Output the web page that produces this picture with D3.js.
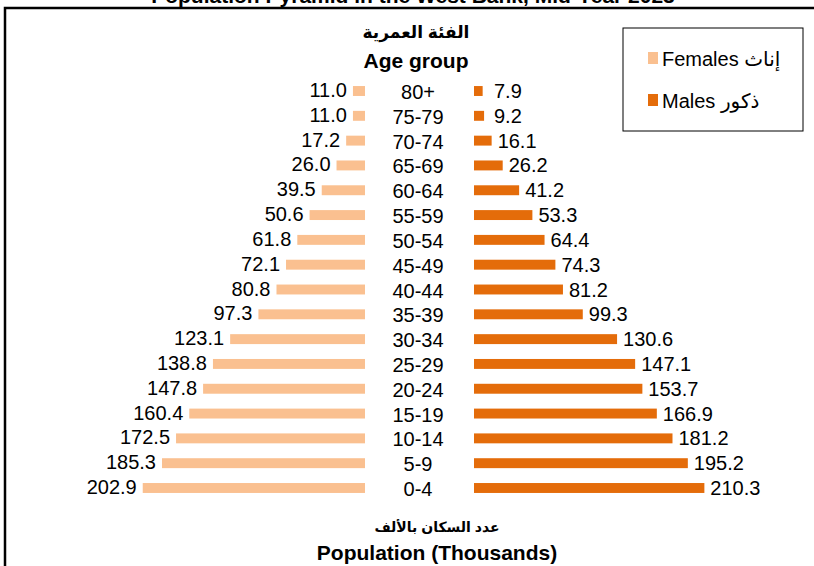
<!DOCTYPE html>
<html>
<head>
<meta charset="utf-8">
<script src="https://cdn.jsdelivr.net/npm/d3@7"></script>
<style>
  body { margin: 0; background: #fff; }
  svg { display: block; }
  text { font-family: "Liberation Sans", Arial, "DejaVu Sans", sans-serif; fill: #000; }
</style>
</head>
<body>
<div id="chart"></div>
<script>
// age groups from youngest to oldest
const ageGroups = ["0-4", "5-9", "10-14", "15-19", "20-24", "25-29", "30-34", "35-39",
  "40-44", "45-49", "50-54", "55-59", "60-64", "65-69", "70-74", "75-79", "80+"];
const females = [202.9, 185.3, 172.5, 160.4, 147.8, 138.8, 123.1, 97.3,
  80.8, 72.1, 61.8, 50.6, 39.5, 26.0, 17.2, 11.0, 11.0];
const males = [210.3, 195.2, 181.2, 166.9, 153.7, 147.1, 130.6, 99.3,
  81.2, 74.3, 64.4, 53.3, 41.2, 26.2, 16.1, 9.2, 7.9];
const seriesNames = ["Females إناث", "Males ذكور"];

const width = 814, height = 566;
const femaleColor = "#FAC090", maleColor = "#E46C0A";

const svg = d3.select("#chart").append("svg")
  .attr("width", width)
  .attr("height", height);

// outer frame (runs past the right and bottom edges)
svg.append("rect")
  .attr("x", 5).attr("y", 8)
  .attr("width", 840).attr("height", 600)
  .attr("fill", "none").attr("stroke", "#000").attr("stroke-width", 2.5);

// title, cut off at the top like the original
svg.append("text")
  .attr("x", 413).attr("y", 3)
  .attr("text-anchor", "middle")
  .attr("font-size", "21px").attr("font-weight", "bold")
  .text("Population Pyramid in the West Bank, Mid-Year 2023");

const y = d3.scaleBand()
  .domain(ageGroups.slice().reverse())
  .range([78.6, 500.4])
  .paddingInner(0.6)
  .paddingOuter(0.3);

const xF = d3.scaleLinear().domain([0, 220]).range([365, 365 - 241]);
const xM = d3.scaleLinear().domain([0, 220]).range([474, 474 + 241]);

const rows = ageGroups.map((a, i) => ({ age: a, f: females[i], m: males[i] }));
const cy = d => y(d.age) + y.bandwidth() / 2;

// female bars
svg.append("g").selectAll("rect")
  .data(rows).join("rect")
  .attr("x", d => xF(d.f))
  .attr("y", d => y(d.age))
  .attr("width", d => xF(0) - xF(d.f))
  .attr("height", y.bandwidth())
  .attr("fill", femaleColor);

// male bars
svg.append("g").selectAll("rect")
  .data(rows).join("rect")
  .attr("x", xM(0))
  .attr("y", d => y(d.age))
  .attr("width", d => xM(d.m) - xM(0))
  .attr("height", y.bandwidth())
  .attr("fill", maleColor);

// value labels
svg.append("g").selectAll("text")
  .data(rows).join("text")
  .attr("x", d => xF(d.f) - 6)
  .attr("y", d => cy(d) + 6)
  .attr("text-anchor", "end")
  .attr("font-size", "20px")
  .text(d => d.f.toFixed(1));

svg.append("g").selectAll("text")
  .data(rows).join("text")
  .attr("x", d => Math.max(xM(d.m) + 6, 494))
  .attr("y", d => cy(d) + 7)
  .attr("font-size", "20px")
  .text(d => d.m.toFixed(1));

// age group labels
svg.append("g").selectAll("text")
  .data(rows).join("text")
  .attr("x", 418)
  .attr("y", d => cy(d) + 8)
  .attr("text-anchor", "middle")
  .attr("font-size", "20px")
  .text(d => d.age);

// axis titles
svg.append("text")
  .attr("x", 416).attr("y", 38)
  .attr("text-anchor", "middle")
  .attr("font-size", "17px").attr("font-weight", "bold")
  .text("الفئة العمرية");
svg.append("text")
  .attr("x", 416).attr("y", 68)
  .attr("text-anchor", "middle")
  .attr("font-size", "21px").attr("font-weight", "bold")
  .text("Age group");

svg.append("text")
  .attr("x", 437).attr("y", 532)
  .attr("text-anchor", "middle")
  .attr("font-size", "14px").attr("font-weight", "bold")
  .text("عدد السكان بالألف");
svg.append("text")
  .attr("x", 437).attr("y", 560)
  .attr("text-anchor", "middle")
  .attr("font-size", "21px").attr("font-weight", "bold")
  .text("Population (Thousands)");

// legend
const legend = svg.append("g");
legend.append("rect")
  .attr("x", 623).attr("y", 28)
  .attr("width", 180).attr("height", 103)
  .attr("fill", "#fff").attr("stroke", "#000").attr("stroke-width", 1);

const legendItems = legend.selectAll("g.item")
  .data(seriesNames).join("g")
  .attr("class", "item")
  .attr("transform", (d, i) => `translate(648, ${59 + i * 42})`);
legendItems.append("rect")
  .attr("x", 0).attr("y", -7)
  .attr("width", 10).attr("height", 12)
  .attr("fill", (d, i) => i === 0 ? femaleColor : maleColor);
legendItems.append("text")
  .attr("x", 14).attr("y", 7)
  .attr("font-size", "20px")
  .text(d => d);
</script>
</body>
</html>
